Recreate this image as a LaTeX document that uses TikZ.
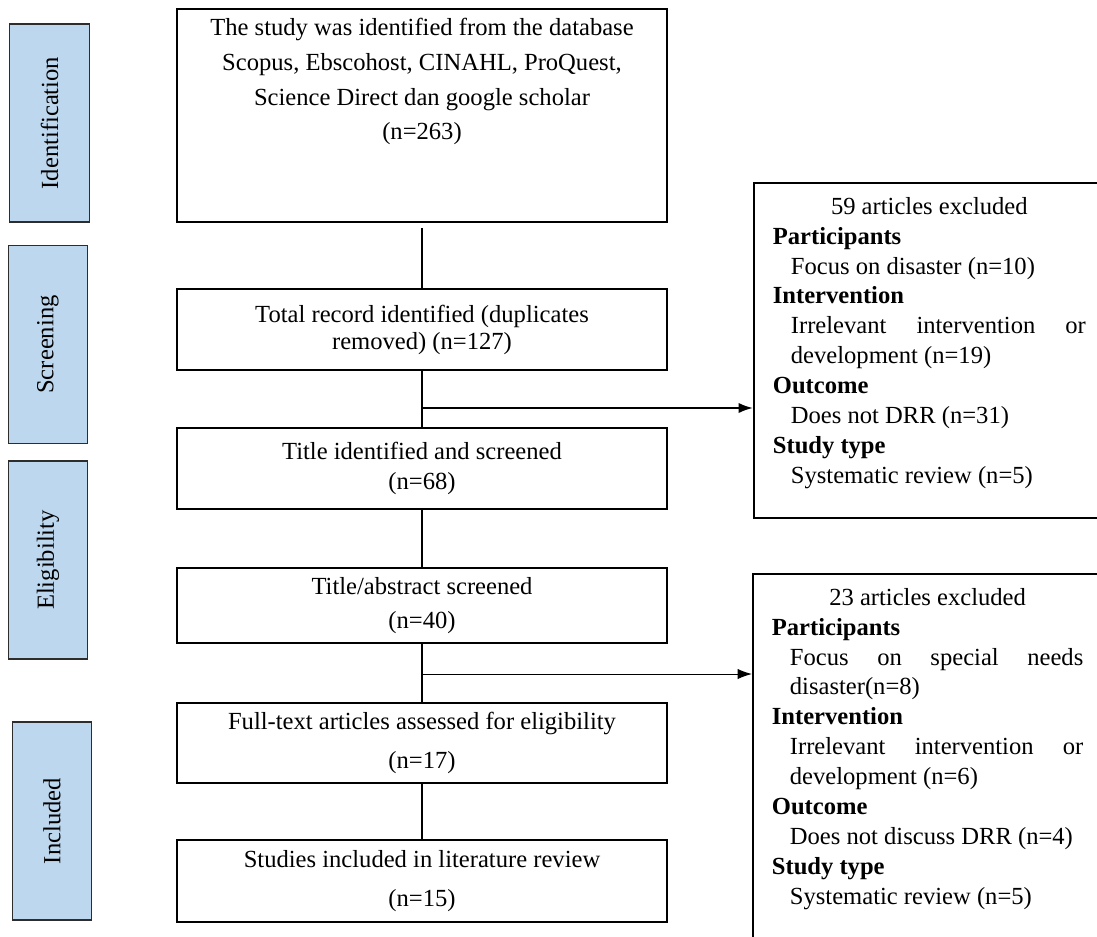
\documentclass[tikz,border=0pt]{standalone}
\usepackage{fontspec}
\setmainfont{Liberation Serif}
\usepackage{tikz}
\usetikzlibrary{arrows,arrows.meta,shapes,positioning,calc}
\definecolor{phaseblue}{RGB}{189,215,238}
\definecolor{edgegray}{RGB}{45,45,45}
\tikzstyle{arrow} = [->,>={Latex[length=7pt,width=5pt]}]
\tikzstyle{flowbox} = [draw, line width=0.8pt, minimum width=239.1pt, align=center, inner sep=0pt, font=\fontsize{12}{14.4}\selectfont]
\tikzstyle{phase} = [draw=edgegray, line width=0.6pt, fill=phaseblue, rotate=90, minimum width=96.6pt, minimum height=38.8pt, font=\fontsize{12}{14.4}\selectfont]
\tikzstyle{exclbox} = [draw, line width=0.8pt, anchor=north west, inner xsep=9.3pt, inner ysep=7pt, font=\fontsize{12}{14.6}\selectfont]
\newcommand{\exclhead}[1]{\par\textbf{#1}\par}
\newcommand{\exclitem}[1]{{\leftskip=8.8pt #1\par}}

\begin{document}
\begin{tikzpicture}[x=0.488pt, y=-0.488pt, line width=0.5pt]
    \useasboundingbox (0,0) rectangle (1097,936);

    % Phases
    \node[phase] (pIdent) at (49.5,123) {Identification};
    \node[phase] (pScreen) at (48,344.5) {Screening};
    \node[phase] (pElig) at (48,560) {Eligibility};
    \node[phase] (pIncl) at (52,821) {Included};

    % Flow
    \node[flowbox, minimum height=103.9pt] (ident) at (422,115.5)
        {\parbox[c][95pt][t]{230pt}{\centering\baselineskip=17pt
        The study was identified from the database\\
        Scopus, Ebscohost, CINAHL, ProQuest,\\
        Science Direct dan google scholar\\
        (n=263)}};
    \node[flowbox, minimum height=39.5pt] (total) at (422,329.5)
        {Total record identified (duplicates\\[-1.2pt]removed) (n=127)};
    \node[flowbox, minimum height=39.5pt] (title) at (422,468.5)
        {Title identified and screened\\(n=68)};
    \node[flowbox, minimum height=36.6pt] (abstr) at (422,605.5)
        {Title/abstract screened\\[2.6pt](n=40)};
    \node[flowbox, minimum height=39pt] (fulltext) at (422,743)
        {Full-text articles assessed for eligibility\\[5pt](n=17)};
    \node[flowbox, minimum height=40pt] (incl) at (422,881)
        {Studies included in literature review\\[5pt](n=15)};

    % Excluded (right side runs off the page)
    \node[exclbox] (excl1) at (753,182)
        {\parbox[c][149.5pt][t]{152.7pt}{\hyphenpenalty=10000 \baselineskip=14.6pt
        {\centering 59 articles excluded\par}
        \exclhead{Participants}
        \exclitem{Focus on disaster (n=10)}
        \exclhead{Intervention}
        \exclitem{Irrelevant intervention or development (n=19)}
        \exclhead{Outcome}
        \exclitem{Does not DRR (n=31)}
        \exclhead{Study type}
        \exclitem{Systematic review (n=5)}}\hspace{12pt}};
    \node[exclbox] (excl2) at (752,573)
        {\parbox[c][180pt][t]{152pt}{\hyphenpenalty=10000 \baselineskip=14.6pt
        {\centering 23 articles excluded\par}
        \exclhead{Participants}
        \exclitem{Focus on special needs disaster(n=8)}
        \exclhead{Intervention}
        \exclitem{Irrelevant intervention or development (n=6)}
        \exclhead{Outcome}
        \exclitem{Does not discuss DRR (n=4)}
        \exclhead{Study type}
        \exclitem{Systematic review (n=5)}}\hspace{12pt}};

    % Connectors
    \coordinate (br1) at (422,408);
    \coordinate (br2) at (422,674);
    \draw[shorten <=2.5pt] (ident.south) -- (total.north);
    \draw (total.south) -- (title.north);
    \draw[arrow, line width=1pt] (br1) -- (br1 -| excl1.west);
    \draw (title.south) -- (abstr.north);
    \draw (abstr.south) -- (fulltext.north);
    \draw[arrow] (br2) -- (br2 -| excl2.west);
    \draw (fulltext.south) -- (incl.north);
\end{tikzpicture}
\end{document}
